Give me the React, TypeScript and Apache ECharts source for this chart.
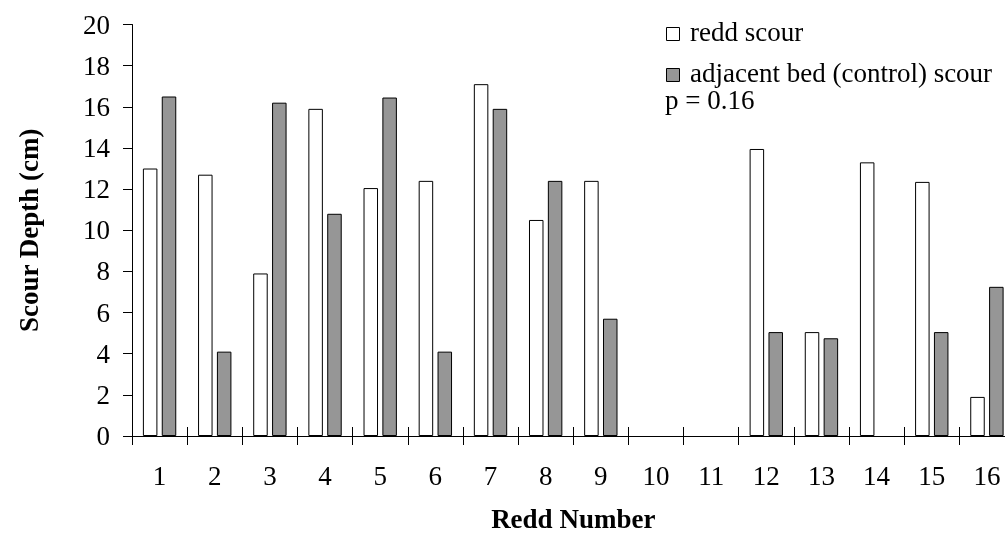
import React, { useEffect, useRef } from "react";
import * as echarts from "echarts";

const categories = ["1", "2", "3", "4", "5", "6", "7", "8", "9", "10", "11", "12", "13", "14", "15", "16"];
const reddScour = [13.0, 12.7, 7.9, 15.9, 12.05, 12.4, 17.1, 10.5, 12.4, 0, 0, 13.95, 5.05, 13.3, 12.35, 1.9];
const controlScour = [16.5, 4.1, 16.2, 10.8, 16.45, 4.1, 15.9, 12.4, 5.7, 0, 0, 5.05, 4.75, 0, 5.05, 7.25];
const seriesNames = ["redd scour", "adjacent bed (control) scour"];
const pText = "p = 0.16";

const FONT = "'Liberation Serif', 'Times New Roman', serif";

export default function App() {
  const ref = useRef<HTMLDivElement>(null);
  useEffect(() => {
    document.body.style.margin = "0";
    const chart = echarts.init(ref.current!, null, { renderer: "svg" });
    const toData = (arr: number[]) =>
      arr.map((v) => (v === 0 ? { value: v, itemStyle: { borderWidth: 0 } } : v));
    const barStyle = (fill: string) => ({ color: fill, borderColor: "#000", borderWidth: 1 });
    chart.setOption({
      animation: false,
      textStyle: { fontFamily: FONT },
      grid: { left: 132, top: 24.5, bottom: 97, right: -9.5, containLabel: false, outerBoundsMode: "none" },
      xAxis: [
        {
          type: "category",
          data: categories,
          position: "bottom",
          name: "Redd Number",
          nameLocation: "middle",
          nameGap: 69,
          nameTextStyle: { fontFamily: FONT, fontSize: 27, fontWeight: "bold", color: "#000" },
          axisLine: { lineStyle: { color: "#000", width: 1 } },
          axisTick: { show: true, inside: false, length: 9, lineStyle: { color: "#000" } },
          axisLabel: { fontFamily: FONT, fontSize: 27, color: "#000", margin: 26, interval: 0 },
        },
        {
          type: "category",
          data: categories,
          position: "bottom",
          axisLine: { show: false },
          axisTick: { show: true, inside: true, length: 9, lineStyle: { color: "#000" } },
          axisLabel: { show: false },
        },
      ],
      yAxis: {
        type: "value",
        min: 0,
        max: 20,
        interval: 2,
        name: "Scour Depth (cm)",
        nameLocation: "middle",
        nameGap: 90,
        nameRotate: 90,
        nameTextStyle: { fontFamily: FONT, fontSize: 27, fontWeight: "bold", color: "#000" },
        axisLine: { show: true, lineStyle: { color: "#000", width: 1 } },
        axisTick: { show: true, inside: false, length: 9, lineStyle: { color: "#000" } },
        axisLabel: { fontFamily: FONT, fontSize: 27, color: "#000", margin: 22 },
        splitLine: { show: false },
      },
      series: [
        {
          name: seriesNames[0],
          type: "bar",
          data: toData(reddScour),
          barWidth: 14.5,
          barGap: "30%",
          itemStyle: barStyle("#ffffff"),
        },
        {
          name: seriesNames[1],
          type: "bar",
          data: toData(controlScour),
          barWidth: 14.5,
          barGap: "30%",
          itemStyle: barStyle("#969696"),
        },
      ],
      graphic: [
        { type: "rect", shape: { x: 666.5, y: 27.5, width: 13, height: 13 }, style: { fill: "#fff", stroke: "#000", lineWidth: 1 } },
        { type: "text", x: 690, y: 32, style: { text: seriesNames[0], font: `27px ${FONT}`, fill: "#000", verticalAlign: "middle" } },
        { type: "rect", shape: { x: 666.5, y: 68.5, width: 13, height: 13 }, style: { fill: "#969696", stroke: "#000", lineWidth: 1 } },
        { type: "text", x: 690, y: 73, style: { text: seriesNames[1], font: `27px ${FONT}`, fill: "#000", verticalAlign: "middle" } },
        { type: "text", x: 665, y: 100, style: { text: pText, font: `27px ${FONT}`, fill: "#000", verticalAlign: "middle" } },
      ],
    });
    return () => chart.dispose();
  }, []);
  return <div ref={ref} style={{ position: "fixed", left: 0, top: 0, width: 1005, height: 533 }} />;
}
